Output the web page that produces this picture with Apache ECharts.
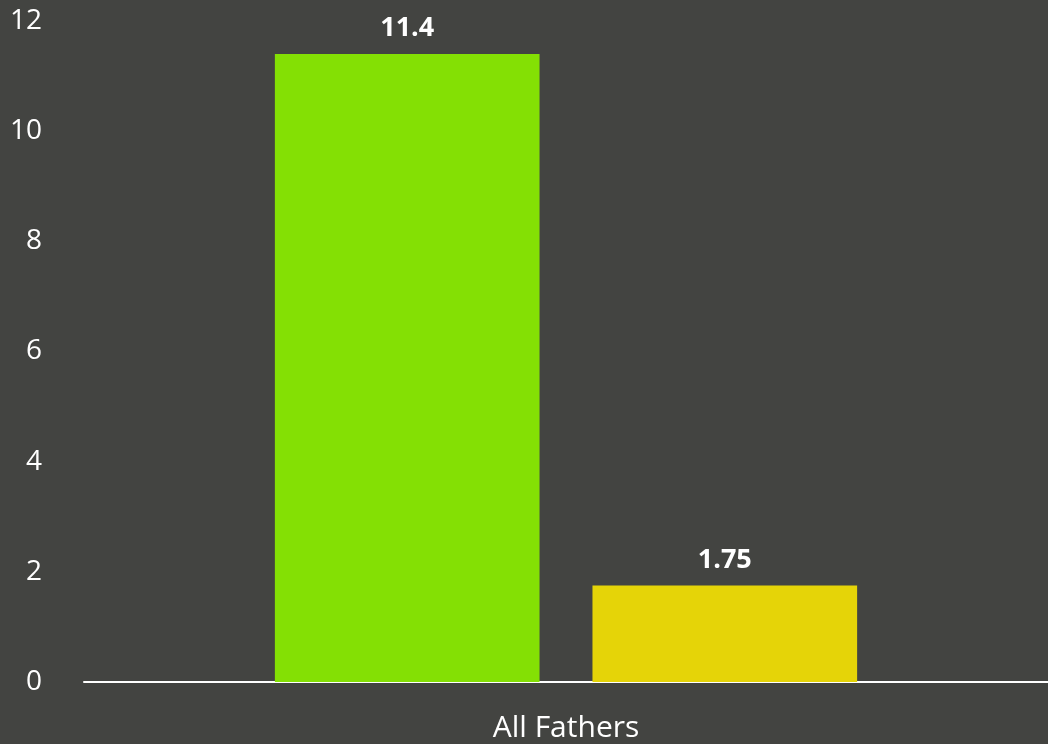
<!DOCTYPE html>
<html>
<head>
<meta charset="utf-8">
<script src="https://cdn.jsdelivr.net/npm/echarts@6/dist/echarts.min.js"></script>
<style>
html,body{margin:0;padding:0;background:#434441;}
#chart{width:1048px;height:744px;}
</style>
</head>
<body>
<div id="chart"></div>
<script>
const categories = ["All Fathers"];
const seriesA = [11.4];
const seriesB = [1.75];
const seriesColors = ["#84E004", "#E5D408"];
const yTicks = { min: 0, max: 12, interval: 2 };

const chart = echarts.init(document.getElementById('chart'), null, { renderer: 'canvas' });
const font = '"Open Sans", "Noto Sans", sans-serif';
chart.setOption({
  backgroundColor: '#434441',
  animation: false,
  grid: { left: 84, right: 0, top: 21, bottom: 62, containLabel: false },
  xAxis: {
    type: 'category',
    data: categories,
    axisLine: { show: true, lineStyle: { color: '#ffffff', width: 2 } },
    axisTick: { show: false },
    axisLabel: { color: '#ffffff', fontFamily: font, fontSize: 30, margin: 31 }
  },
  yAxis: {
    type: 'value',
    min: yTicks.min, max: yTicks.max, interval: yTicks.interval,
    axisLine: { show: false },
    axisTick: { show: false },
    splitLine: { show: false },
    axisLabel: { color: '#ffffff', fontFamily: font, fontSize: 28, margin: 42 }
  },
  series: [
    {
      type: 'bar', data: seriesA, barGap: '20%', barCategoryGap: '39.6%',
      itemStyle: { color: seriesColors[0] },
      label: { show: true, position: 'top', distance: 12, color: '#ffffff', fontWeight: 'bold', fontFamily: font, fontSize: 27 }
    },
    {
      type: 'bar', data: seriesB, barGap: '20%', barCategoryGap: '39.6%',
      itemStyle: { color: seriesColors[1] },
      label: { show: true, position: 'top', distance: 12, color: '#ffffff', fontWeight: 'bold', fontFamily: font, fontSize: 27 }
    }
  ]
});
</script>
</body>
</html>
